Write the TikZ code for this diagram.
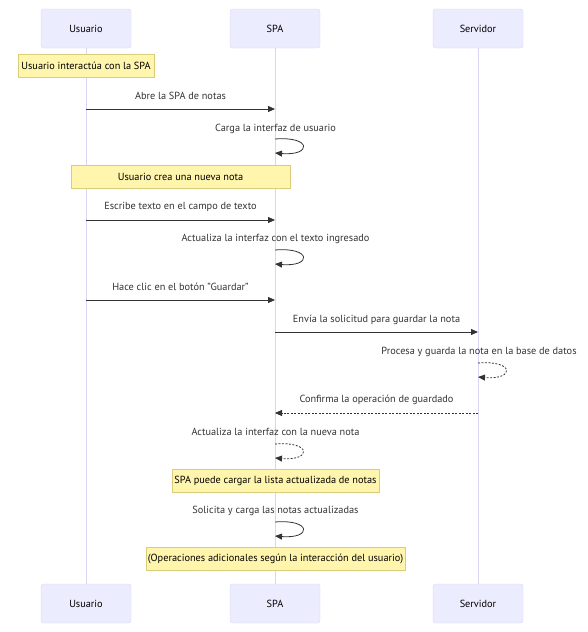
\documentclass[tikz,border=0pt]{standalone}
\usepackage{fontspec}
\setmainfont{PT Sans}
\usetikzlibrary{arrows.meta}
\definecolor{actorfill}{HTML}{ECECFF}
\definecolor{actorline}{HTML}{DCD3F5}
\definecolor{lifeline}{HTML}{DCD3F5}
\definecolor{notefill}{HTML}{FFF5AD}
\definecolor{noteline}{HTML}{D9CC7A}
\definecolor{ink}{HTML}{333333}
\newcommand{\straightquote}{\char"22\relax}
\tikzset{
  actor/.style={draw=actorline, fill=actorfill, rounded corners=2.5pt, minimum width=90pt, minimum height=39pt, inner sep=0pt, font=\fontsize{10.3}{12}\selectfont, text=black},
  notebox/.style={draw=noteline, fill=notefill, minimum height=23pt, inner sep=0pt, font=\fontsize{10.3}{12}\selectfont, text=black},
  life/.style={draw=lifeline, line width=0.9pt},
  msg/.style={draw=ink, line width=0.8pt, -{Triangle[length=7pt,width=6pt]}},
  reply/.style={msg, dash pattern=on 2pt off 1.5pt},
  lbl/.style={font=\fontsize{10.3}{12}\selectfont, text=ink, inner sep=0pt, anchor=base},
}
\begin{document}
\begin{tikzpicture}[x=1pt, y=-1pt]
\useasboundingbox (0,0) rectangle (588,632);

% participants, top and bottom
\node[actor] (ut) at (86,28.5) {Usuario};
\node[actor] (st) at (275,28.5) {SPA};
\node[actor] (vt) at (478,28.5) {Servidor};
\node[actor] (ub) at (86,603.5) {Usuario};
\node[actor] (sb) at (275,603.5) {SPA};
\node[actor] (vb) at (478,603.5) {Servidor};

% lifelines
\draw[life] (ut.south) -- (ub.north);
\draw[life] (st.south) -- (sb.north);
\draw[life] (vt.south) -- (vb.north);

% notes
\node[notebox, minimum width=136pt] (n1) at (86,66) {Usuario interactúa con la SPA};
\node[notebox, minimum width=219pt] (n2) at (180.5,176.5) {Usuario crea una nueva nota};
\node[notebox, minimum width=207pt] (n3) at (275.5,480.5) {SPA puede cargar la lista actualizada de notas};
\node[notebox, minimum width=259pt] (n4) at (275.5,558.5) {(Operaciones adicionales según la interacción del usuario)};

% anchor points on the lifelines
\coordinate (u1) at (86,109);  \coordinate (s1) at (275,109);
\coordinate (s2) at (275,139);
\coordinate (u3) at (86,220);  \coordinate (s3) at (275,220);
\coordinate (s4) at (275,250);
\coordinate (u5) at (86,300);  \coordinate (s5) at (275,300);
\coordinate (s6) at (275,332); \coordinate (v6) at (478,332);
\coordinate (v7) at (478,363);
\coordinate (v8) at (478,413); \coordinate (s8) at (275,413);
\coordinate (s9) at (275,444);
\coordinate (s10) at (275,522);

% messages
\draw[msg] (u1) -- (s1);
\node[lbl] (m1) at (180.5,99) {Abre la SPA de notas};

\draw[msg] (s2) .. controls +(37,-3) and +(37,3) .. ++(0,14);
\node[lbl] (m2) at (275.5,131) {Carga la interfaz de usuario};

\draw[msg] (u3) -- (s3);
\node[lbl] (m3) at (180.5,209) {Escribe texto en el campo de texto};

\draw[msg] (s4) .. controls +(37,-3) and +(37,3) .. ++(0,14);
\node[lbl] (m4) at (275.5,241) {Actualiza la interfaz con el texto ingresado};

\draw[msg] (u5) -- (s5);
\node[lbl] (m5) at (180.5,290) {Hace clic en el botón \straightquote Guardar\straightquote};

\draw[msg] (s6) -- (v6);
\node[lbl] (m6) at (376.5,322) {Envía la solicitud para guardar la nota};

\draw[reply] (v7) .. controls +(37,-3) and +(37,3) .. ++(0,14);
\node[lbl] (m7) at (479,354) {Procesa y guarda la nota en la base de datos};

\draw[reply] (v8) -- (s8);
\node[lbl] (m8) at (376.5,402) {Confirma la operación de guardado};

\draw[reply] (s9) .. controls +(37,-3) and +(37,3) .. ++(0,14);
\node[lbl] (m9) at (275.5,435) {Actualiza la interfaz con la nueva nota};

\draw[msg] (s10) .. controls +(37,-3) and +(37,3) .. ++(0,14);
\node[lbl] (m10) at (275.5,513) {Solicita y carga las notas actualizadas};
\end{tikzpicture}
\end{document}
